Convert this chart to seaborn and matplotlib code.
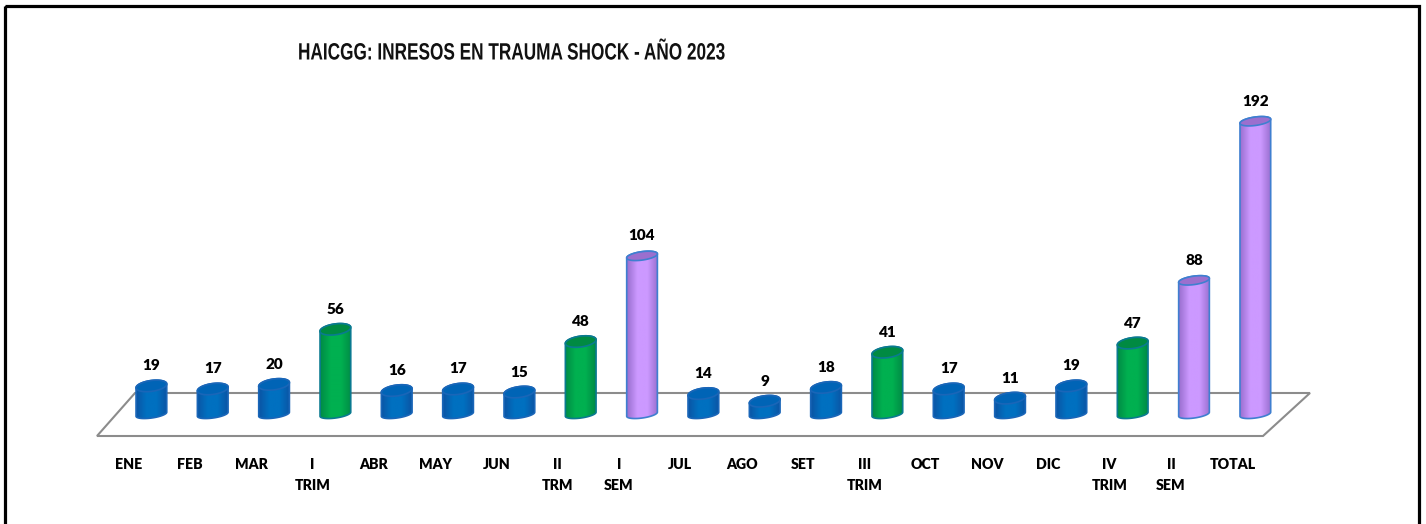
#!/usr/bin/env python3
import numpy as np
import pandas as pd
import seaborn as sns
import matplotlib.pyplot as plt
import matplotlib.patheffects as pe
from matplotlib.colors import LinearSegmentedColormap
from matplotlib.path import Path
from matplotlib.patches import PathPatch, Rectangle, Polygon
from matplotlib.transforms import Affine2D, ScaledTranslation

categories = ['ENE', 'FEB', 'MAR', 'I\nTRIM', 'ABR', 'MAY', 'JUN', 'II\nTRM', 'I\nSEM',
              'JUL', 'AGO', 'SET', 'III\nTRIM', 'OCT', 'NOV', 'DIC', 'IV\nTRIM', 'II\nSEM', 'TOTAL']
values = [19, 17, 20, 56, 16, 17, 15, 48, 104, 14, 9, 18, 41, 17, 11, 19, 47, 88, 192]
groups = ['mes', 'mes', 'mes', 'trim', 'mes', 'mes', 'mes', 'trim', 'sem',
          'mes', 'mes', 'mes', 'trim', 'mes', 'mes', 'mes', 'trim', 'sem', 'sem']

W, H = 1426, 524
colors = {'mes': '#0070c0', 'trim': '#00b050', 'sem': '#cc99ff'}
edges = {'mes': '#1a66b8', 'trim': '#0a7a90', 'sem': '#3f7fd0'}
shade = {'mes': '#0b55a5', 'trim': '#008a45', 'sem': '#9a6fd0'}
caps = {'mes': '#0064b6', 'trim': '#008a42', 'sem': '#9b6fce'}


class SqueezeX(pe.AbstractPathEffect):
    # narrows a text around its left edge, there is no condensed bold font here
    def __init__(self, sx, x_left):
        super().__init__()
        self.sx = sx
        self.x_left = x_left

    def draw_path(self, renderer, gc, tpath, affine, rgbFace=None):
        aff = affine + Affine2D().translate(-self.x_left, 0).scale(self.sx, 1).translate(self.x_left, 0)
        renderer.draw_path(gc, tpath, aff, rgbFace)


sns.set_theme(style='white')
plt.rcParams['font.family'] = ['Lato', 'DejaVu Sans']

df = pd.DataFrame({'cat': categories, 'val': values, 'grp': groups})

fig = plt.figure(figsize=(W / 100, H / 100), dpi=100)
fig.patch.set_facecolor('white')

# pixel transform, y going down like the picture
px = Affine2D().scale(1, -1).translate(0, H)

# axes box in picture pixels: x scale 61.33 px per bar, y scale 1.53 px per case
step = 61.33
x0 = 151.4
base = 415
ppu = 1.53
ax_top, ax_bot = 70, 436
ax = fig.add_axes([0, 1 - ax_bot / H, 1, (ax_bot - ax_top) / H])
ax.patch.set_alpha(0)

sns.barplot(data=df, x='cat', y='val', hue='grp', palette=colors, dodge=False,
            width=31 / step, legend=False, ax=ax, order=categories, zorder=3)
ax.set_xlabel('')
ax.set_ylabel('')
ax.set_yticks([])
sns.despine(ax=ax, left=True, bottom=True, top=True, right=True)
ax.tick_params(axis='x', length=0, pad=15.5)

# floor
floor = Polygon([(97, 436), (1263, 436), (1310, 393), (135, 393)], closed=True, fill=False,
                ec='#8c8c8c', lw=1.5, transform=px, clip_on=False, zorder=1)
ax.add_patch(floor)


def ellipse_pts(cx, cy, a, b, tilt, t):
    ca, sa = np.cos(tilt), np.sin(tilt)
    ex = a * np.cos(t)
    ey = b * np.sin(t)
    return cx + ex * ca - ey * sa, cy - ex * sa - ey * ca


# cylinder look: gradient body and tilted cap on top of each bar
tilt = np.radians(8)
for bar in ax.patches:
    if not isinstance(bar, Rectangle) or bar.get_height() <= 0:
        continue
    i = int(round(bar.get_x() + bar.get_width() / 2))
    g = groups[i]
    cx = x0 + i * step
    top = base - values[i] * ppu
    a = 15.5
    b = 4.2 if g == 'sem' else 5.4

    t1 = np.linspace(0, np.pi, 40)
    t2 = np.linspace(np.pi, 2 * np.pi, 40)
    tx, ty = ellipse_pts(cx, top, a, b, tilt, t1)
    bx, by = ellipse_pts(cx, base - 0.8, a, 3.8, tilt, t2)
    body = np.column_stack([np.r_[tx, bx], np.r_[ty, by]])
    body = np.vstack([body, body[0]])
    path = Path(body)
    outline = PathPatch(path, fc='none', ec=edges[g], lw=1.2, transform=px, clip_on=False, zorder=5)

    cmap = LinearSegmentedColormap.from_list(g, [shade[g], colors[g], colors[g], shade[g]])
    grad = np.linspace(0, 1, 64).reshape(1, -1)
    img = ax.imshow(grad, cmap=cmap, aspect='auto', zorder=4,
                    extent=[bar.get_x(), bar.get_x() + bar.get_width(),
                            -8 / ppu, (base - top + 20) / ppu])
    img.set_clip_path(PathPatch(path, transform=px))
    ax.add_patch(outline)

    t = np.linspace(0, 2 * np.pi, 80)
    cxs, cys = ellipse_pts(cx, top, a, b, tilt, t)
    ax.add_patch(Polygon(np.column_stack([cxs, cys]), closed=True, fc=caps[g], ec=edges[g], lw=1.2,
                         transform=px, clip_on=False, zorder=6))
    bar.set_visible(False)

    ax.annotate(str(values[i]), xy=(i, values[i]), xytext=(0, 20 * 0.72), textcoords='offset points',
                ha='center', va='center', fontsize=11, fontweight='heavy', color='black')

ax.set_xlim(-x0 / step, (W - x0) / step)
ax.set_ylim(-(ax_bot - base) / ppu, (base - ax_top) / ppu)

# labels sit left of their bars in the reference
shift = ScaledTranslation(-23 / 100, 0, fig.dpi_scale_trans)
for lbl in ax.get_xticklabels():
    lbl.set_transform(lbl.get_transform() + shift)
    lbl.set_fontsize(10.2)
    lbl.set_fontweight('heavy')
    lbl.set_color('black')
    lbl.set_linespacing(1.8)

title = fig.text(298 / W, 1 - 53 / H, 'HAICGG: INRESOS EN TRAUMA SHOCK - AÑO 2023', ha='left', va='center',
                 fontsize=17, fontweight='bold', color='#111111', family=['Liberation Sans'])
title.set_path_effects([SqueezeX(428 / 587, 298)])

# outer frame, its bottom side is cropped off in the reference
fig.add_artist(Rectangle((5.3, 6), 1413.2, 530, fill=False, ec='black', lw=2.3, transform=px))

fig.savefig('out.png', dpi=100)
